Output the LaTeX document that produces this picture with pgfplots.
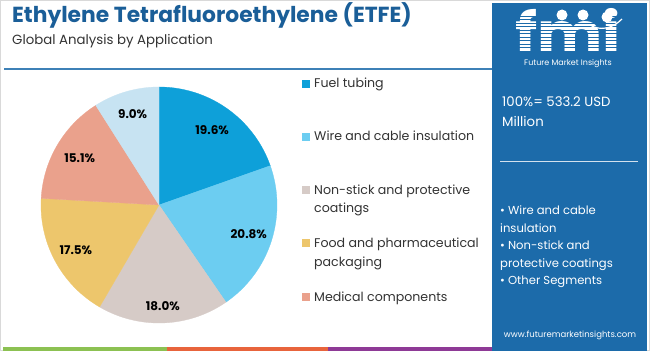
\documentclass[border=0pt]{standalone}
\usepackage{pgfplots}
\pgfplotsset{compat=1.18}
\usepackage{fontspec}
\setmainfont{Poppins}
\definecolor{cFuel}{HTML}{0EA0D9}
\definecolor{cWire}{HTML}{6CCDF1}
\definecolor{cNon}{HTML}{D6CBC7}
\definecolor{cFood}{HTML}{EDC66C}
\definecolor{cMed}{HTML}{EAA18C}
\definecolor{cOth}{HTML}{C7E3F2}
\definecolor{cTitle}{HTML}{1A5E98}
\definecolor{cPanel}{HTML}{1C6BAA}
\definecolor{cText}{HTML}{333333}
\definecolor{cGreen}{HTML}{8CC152}
\definecolor{cOrange}{HTML}{E8643C}
\definecolor{cPurple}{HTML}{8E3A96}
\newcommand\pielabel{\fontsize{12}{13}\selectfont\bfseries}
\newcommand\cum{0}
\newcommand\pieslice[4]{% value, colour, label, label radius
  \pgfmathsetmacro\sa{90-3.6*\cum}%
  \pgfmathsetmacro\ea{90-3.6*(\cum+#1)}%
  \pgfmathsetmacro\ma{(\sa+\ea)/2}%
  \pgfmathsetmacro\lx{#4*cos(\ma)}%
  \pgfmathsetmacro\ly{#4*sin(\ma)}%
  \edef\tmp{\noexpand\addplot[fill=#2, draw=#2, line width=0.3pt, domain=\ea:\sa, samples=60, variable=\noexpand\t] ({cos(\noexpand\t)},{sin(\noexpand\t)}) -- (axis cs:0,0) -- cycle;
  \noexpand\node[font=\noexpand\pielabel, text=black] at (axis cs:\lx,\ly) {#3};}%
  \tmp
  \pgfmathsetmacro\newcum{\cum+#1}%
  \global\let\cum\newcum
}
\begin{document}
\begin{tikzpicture}[x=1pt,y=1pt]
% background and frame
\fill[white] (0,0) rectangle (650,351);
\draw[black!15, line width=0.8pt] (0.4,0.4) rectangle (649.6,350.6);
% title
\node[anchor=base west, inner sep=0, text=cTitle, font=\fontsize{21.8}{25}\selectfont\bfseries] at (12,328) {Ethylene Tetrafluoroethylene (ETFE)};
\node[anchor=base west, inner sep=0, text=cText, font=\fontsize{13.3}{16}\selectfont] at (12,306) {Global Analysis by Application};
\draw[color=cPanel!85, line width=1.3pt] (4,282) -- (492,282);
% bottom stripes
\fill[cGreen] (3,0.5) rectangle (167,4);
\fill[cOrange] (167,0.5) rectangle (328,4);
\fill[cPurple] (328,0.5) rectangle (492,4);
% right panel
\fill[cPanel] (492,0) rectangle (647,348);
% logo
\node[anchor=base west, inner sep=0, text depth=0pt, text=white, xscale=1.12, font=\fontsize{55}{58}\selectfont\bfseries] at (515,298) {fmi};
\foreach \yy in {300,303.5,...,338} {\draw[cPanel, line width=0.9pt] (512,\yy) -- (625,\yy);}
\fill[white] (562,336) circle (5.5);
\fill[white] (583,336) circle (5.5);
\fill[white] (607,334) circle (5.5);
\draw[white, line width=1.2pt] (590,326) .. controls (600,320) and (612,322) .. (622,332);
\node[anchor=base, inner sep=0, text=white, font=\fontsize{8}{9}\selectfont] at (568,285) {Future Market Insights};
% panel text
\node[anchor=base west, inner sep=0, text=white, font=\fontsize{13.3}{15}\selectfont] at (502,244) {100\%= 533.2 USD};
\node[anchor=base west, inner sep=0, text=white, font=\fontsize{13.3}{15}\selectfont] at (502,224) {Million};
\draw[white!80!cPanel, line width=0.8pt] (500,190) -- (638,190);
\begin{scope}[every node/.style={anchor=base west, inner sep=0, text=white, font=\fontsize{11.6}{13}\selectfont}]
\node at (500,136) {• Wire and cable};
\node at (500,119) {insulation};
\node at (500,102) {• Non-stick and};
\node at (500,84) {protective coatings};
\node at (500,67) {• Other Segments};
\end{scope}
\node[anchor=base, inner sep=0, text=white, font=\fontsize{8.5}{10}\selectfont] at (570,14) {www.futuremarketinsights.com};
% legend
\begin{scope}[every node/.style={anchor=base west, inner sep=0, text=cText, font=\fontsize{12.6}{15}\selectfont}]
\fill[cFuel] (302,263) rectangle (310,271);
\node at (314,263) {Fuel tubing};
\fill[cWire] (302,210) rectangle (310,218);
\node at (314,210) {Wire and cable insulation};
\fill[cNon] (302,157) rectangle (310,165);
\node at (314,157) {Non-stick and protective};
\node at (314,139) {coatings};
\fill[cFood] (302,104) rectangle (310,112);
\node at (314,104) {Food and pharmaceutical};
\node at (314,85) {packaging};
\fill[cMed] (302,50) rectangle (310,58);
\node at (314,50) {Medical components};
\end{scope}
% pie
\begin{axis}[at={(159pt,146pt)}, anchor=center, width=236pt, height=236pt, scale only axis, hide axis, clip=false,
  xmin=-1, xmax=1, ymin=-1, ymax=1]
\pieslice{19.6}{cFuel}{19.6\%}{0.78}
\pieslice{20.8}{cWire}{20.8\%}{0.80}
\pieslice{18.0}{cNon}{18.0\%}{0.86}
\pieslice{17.5}{cFood}{17.5\%}{0.80}
\pieslice{15.1}{cMed}{15.1\%}{0.78}
\pieslice{9.0}{cOth}{9.0\%}{0.80}
\end{axis}
\end{tikzpicture}
\end{document}
